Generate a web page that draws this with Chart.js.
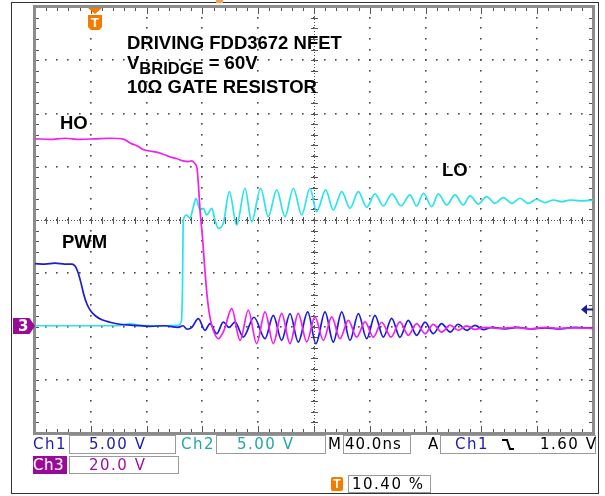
<!DOCTYPE html>
<html>
<head>
<meta charset="utf-8">
<script src="https://cdn.jsdelivr.net/npm/chart.js@4.4.0/dist/chart.umd.min.js"></script>
<style>
html, body { margin: 0; padding: 0; background: #fff; }
#wrap { position: relative; width: 605px; height: 496px; overflow: hidden; }
#scope { position: absolute; left: 0; top: 0; }
.lbl { position: absolute; font-family: "Liberation Sans", Arial, sans-serif; font-weight: bold; font-size: 18.5px; line-height: 1; color: #000; white-space: nowrap; }
.st { position: absolute; font-family: "DejaVu Sans", Verdana, sans-serif; font-size: 15px; letter-spacing: 1.5px; line-height: 19px; height: 19px; white-space: nowrap; }
.box { position: absolute; border: 1px solid #9a9a9a; box-sizing: border-box; }
#frame { position: absolute; left: 11px; top: 2px; width: 588px; height: 492px; border: 1.5px solid #333; box-sizing: border-box; pointer-events: none; }
</style>
</head>
<body>
<div id="wrap">
  <canvas id="scope" width="605" height="496"></canvas>
  <div id="frame"></div>

  <!-- annotations -->
  <div class="lbl" style="left:127px;top:33.6px">DRIVING FDD3672 NFET</div>
  <div class="lbl" style="left:127px;top:54.3px">V<span style="position:relative;top:5px;font-size:16.5px">BRIDGE</span> = 60V</div>
  <div class="lbl" style="left:127px;top:77.6px">10Ω GATE RESISTOR</div>
  <div class="lbl" style="left:60px;top:113.8px">HO</div>
  <div class="lbl" style="left:62px;top:233.3px">PWM</div>
  <div class="lbl" style="left:442px;top:161.3px">LO</div>

  <!-- markers -->
  <div style="position:absolute;left:216px;top:0;width:7px;height:3px;background:#f7a050"></div>
  <div style="position:absolute;left:88px;top:8px;width:14px;height:6px;background:#f47b00;clip-path:polygon(0 0,100% 0,50% 100%)"></div>
  <div style="position:absolute;left:88px;top:15px;width:14px;height:15px;background:#f47b00;clip-path:polygon(0 0,100% 0,100% 80%,80% 100%,20% 100%,0 80%);color:#fff;font:bold 13px 'Liberation Sans',Arial,sans-serif;text-align:center;line-height:15px">T</div>
  <div style="position:absolute;left:13px;top:318px;width:22px;height:16px;background:#990a99;clip-path:polygon(0 0,75% 0,100% 50%,75% 100%,0 100%);color:#fff;font:bold 15px 'DejaVu Sans',sans-serif;line-height:16px;padding-left:5px;box-sizing:border-box">3</div>

  <!-- status bar -->
  <div class="st" style="left:33px;top:435px;color:#1c1ca8">Ch1</div>
  <div class="box" style="left:69px;top:435px;width:107px;height:19px"></div>
  <div class="st" style="left:89px;top:435px;color:#2020b0">5.00 V</div>
  <div class="st" style="left:181px;top:435px;color:#20a8a8">Ch2</div>
  <div class="box" style="left:216px;top:435px;width:110px;height:19px"></div>
  <div class="st" style="left:237px;top:435px;color:#20a8a8">5.00 V</div>
  <div class="st" style="left:328px;top:435px;color:#000;letter-spacing:0">M</div>
  <div class="box" style="left:343px;top:435px;width:68px;height:19px"></div>
  <div class="st" style="left:345px;top:435px;color:#000;letter-spacing:1px">40.0ns</div>
  <div class="st" style="left:428px;top:435px;color:#000">A</div>
  <div class="box" style="left:440px;top:435px;width:156px;height:19px"></div>
  <div class="st" style="left:455px;top:435px;color:#1c1ca8">Ch1</div>
  <svg style="position:absolute;left:501px;top:438px" width="14" height="13"><polyline points="1,2 6,2 9,11 13,11" fill="none" stroke="#000" stroke-width="2"/></svg>
  <div class="st" style="left:540px;top:435px;color:#000">1.60 V</div>

  <div class="st" style="left:33px;top:456px;width:34px;height:18px;line-height:18px;background:#990a99;color:#fff;letter-spacing:0.5px">Ch3</div>
  <div class="box" style="left:69px;top:456px;width:110px;height:18px"></div>
  <div class="st" style="left:89px;top:456px;line-height:18px;color:#a010a0">20.0 V</div>

  <div style="position:absolute;left:331px;top:477px;width:12px;height:14px;background:#f47b00;border-radius:2px;color:#fff;font:bold 12px 'Liberation Sans',Arial,sans-serif;text-align:center;line-height:14px">T</div>
  <div class="box" style="left:348px;top:475px;width:83px;height:18px"></div>
  <div class="st" style="left:352px;top:475px;line-height:18px;color:#000">10.40 %</div>
</div>

<script>
// time base 40 ns/div, 10 divisions
const timeMin = 0;
const timeMax = 400;
const voltsPerDiv = { ch1: 5, ch2: 5, ch3: 20 };
const groundDiv = -2;          // all three grounds sit 2 div below centre
const triggerLevel = 1.60;     // Ch1 falling edge

// Ch1 - PWM input (V)
const pwmTime = [0, 7.2, 14.3, 21.5, 26.5, 28.7, 30.8, 33.0, 35.1, 37.3, 40.1, 43.7, 48.0, 53.8, 60.9, 71.7, 82.4, 93.2, 102.5, 106.1,
  109.0, 112.5, 117.1, 121.9, 125.4, 130.3, 135.0, 139.1, 143.4, 149.3, 157.0, 164.9, 170.8, 176.8, 182.8, 188.7, 195.5, 201.4, 207.9, 213.8,
  219.9, 225.8, 231.8, 237.8, 243.7, 249.7, 255.7, 261.6, 267.6, 273.6, 279.6, 285.5, 291.5, 297.5, 303.4, 309.4, 315.4, 321.4, 327.6, 336.9,
  346.2, 354.8, 365.6, 376.3, 387.1, 400];
const pwmVolts = [5.90, 5.86, 5.95, 5.86, 5.86, 5.67, 5.10, 4.07, 2.94, 2.09, 1.43, 0.96, 0.63, 0.40, 0.21, 0.11, 0.02, 0.07, -0.08, 0.07,
  -0.26, -0.08, 0.74, -0.36, 0.27, -0.67, 0.42, -0.08, 0.42, -0.99, 0.87, -1.14, 1.05, -1.30, 1.21, -1.46, 1.37, -1.61, 1.37, -1.46,
  1.37, -1.30, 1.21, -1.14, 1.05, -0.99, 0.77, -1.02, 0.58, -0.83, 0.42, -0.67, 0.27, -0.52, 0.21, -0.36, 0.11, -0.29, -0.08, -0.22,
  -0.08, -0.22, -0.12, -0.22, -0.08, -0.17];

// Ch2 - LO gate (V)
const loTime = [0, 17.9, 39.4, 57.3, 68.1, 75.3, 89.6, 102.5, 105.0, 105.7, 106.3, 108.7, 111.1, 113.5, 115.4, 118.3, 120.6, 123.1, 126.7, 129.0,
  131.4, 135.0, 139.3, 144.6, 150.5, 155.3, 161.8, 167.2, 173.3, 179.2, 185.2, 191.2, 197.1, 201.9, 208.4, 213.8, 219.9, 225.8, 231.8, 237.8,
  243.7, 249.7, 255.9, 262.4, 268.8, 273.6, 278.4, 284.4, 289.1, 295.1, 301.1, 307.0, 311.8, 317.8, 323.8, 329.7, 335.7, 341.7, 347.7, 353.6,
  359.6, 365.6, 371.6, 377.6, 383.5, 390.7, 400];
const loVolts = [0.07, 0.07, 0.07, 0.07, 0.25, 0.11, 0.07, 0.11, 0.58, 3.41, 10.0, 10.47, 10.16, 11.25, 12.04, 10.94, 11.10, 10.47, 11.10, 10.0,
  9.22, 9.69, 12.66, 9.53, 12.98, 9.84, 12.98, 10.31, 12.82, 10.31, 12.98, 10.47, 12.98, 10.78, 12.82, 10.94, 12.66, 11.10, 12.66, 11.20,
  12.45, 11.32, 12.45, 11.32, 12.35, 11.32, 12.51, 11.25, 12.45, 11.41, 12.35, 11.41, 12.26, 11.50, 12.19, 11.57, 12.10, 11.57, 12.04, 11.57,
  11.95, 11.63, 11.88, 11.72, 11.88, 11.79, 11.88];

// Ch3 - HO gate (V)
const hoTime = [0, 10.8, 21.5, 32.3, 43.0, 53.8, 63.8, 66.7, 69.5, 73.1, 76.7, 81.0, 86.0, 91.0, 96.8, 101.8, 106.1, 109.7, 112.5, 114.7,
  116.1, 117.2, 118.3, 120.1, 121.9, 123.7, 125.4, 127.8, 131.4, 135.5, 141.0, 147.0, 152.9, 158.9, 164.9, 170.8, 176.8, 182.8, 188.7, 194.8,
  200.7, 206.7, 212.7, 218.6, 224.6, 230.6, 236.6, 242.5, 248.5, 255.2, 261.6, 267.6, 273.6, 279.6, 285.5, 291.5, 297.5, 303.4, 309.4, 315.4,
  322.6, 333.3, 344.1, 354.8, 365.6, 376.3, 387.1, 400];
const hoVolts = [70.5, 70.3, 70.7, 70.3, 70.5, 70.7, 70.3, 69.4, 68.6, 67.9, 66.7, 66.0, 65.6, 64.9, 63.7, 63.0, 62.2, 61.9, 62.2, 61.1,
  59.6, 52.8, 43.7, 33.2, 20.4, 9.9, 3.5, -1.4, -4.6, -1.4, 6.7, -5.2, 6.1, -6.4, 5.5, -6.4, 4.9, -6.4, 4.9, -5.8,
  3.6, -5.2, 3.6, -4.6, 2.3, -4.0, 1.7, -4.0, 1.6, -4.0, 1.7, -3.3, 1.1, -2.7, 0.8, -2.1, 0.5, -1.4, 0.2, -1.1,
  -0.3, -0.7, -0.3, -0.9, -0.3, -0.7, -0.5, -0.7];

const toPoints = (ts, vs) => ts.map((t, i) => ({ x: t, y: vs[i] }));
const axisFor = (vpd) => ({ display: false, min: (-4 - groundDiv) * vpd, max: (4 - groundDiv) * vpd });

// scope graticule drawn from the scales
const graticule = {
  id: 'graticule',
  beforeDatasetsDraw(chart) {
    const { ctx, chartArea: a } = chart;
    const xs = chart.scales.x, ys = chart.scales.y1;
    const vpd = voltsPerDiv.ch1;
    const minorX = [], majorX = [], minorY = [], majorY = [];
    for (let i = 0; i <= 50; i++) minorX.push(Math.round(xs.getPixelForValue(i * 8)));
    for (let i = 0; i <= 10; i++) majorX.push(Math.round(xs.getPixelForValue(i * 40)));
    for (let i = 0; i <= 40; i++) minorY.push(Math.round(ys.getPixelForValue(ys.min + i * vpd / 5)));
    for (let i = 0; i <= 8; i++) majorY.push(Math.round(ys.getPixelForValue(ys.min + i * vpd)));
    const cx = Math.round(xs.getPixelForValue((timeMin + timeMax) / 2));
    const cy = Math.round(ys.getPixelForValue(ys.min + 4 * vpd));
    ctx.save();
    ctx.fillStyle = '#4a4a4a';
    majorX.forEach(px => minorY.forEach(py => ctx.fillRect(px - 1, py - 1, 1.6, 1.6)));
    majorY.forEach(py => minorX.forEach(px => ctx.fillRect(px - 1, py - 1, 1.6, 1.6)));
    ctx.strokeStyle = '#555';
    ctx.lineWidth = 1;
    ctx.setLineDash([1, 2]);
    ctx.beginPath();
    ctx.moveTo(a.left, cy + 0.5); ctx.lineTo(a.right, cy + 0.5);
    ctx.moveTo(cx + 0.5, a.top); ctx.lineTo(cx + 0.5, a.bottom);
    ctx.stroke();
    ctx.setLineDash([]);
    ctx.beginPath();
    minorX.forEach(px => {
      ctx.moveTo(px + 0.5, cy - 3); ctx.lineTo(px + 0.5, cy + 4);
      ctx.moveTo(px + 0.5, a.top); ctx.lineTo(px + 0.5, a.top + 4);
      ctx.moveTo(px + 0.5, a.bottom); ctx.lineTo(px + 0.5, a.bottom - 4);
    });
    minorY.forEach(py => {
      ctx.moveTo(cx - 3, py + 0.5); ctx.lineTo(cx + 4, py + 0.5);
      ctx.moveTo(a.left, py + 0.5); ctx.lineTo(a.left + 4, py + 0.5);
      ctx.moveTo(a.right, py + 0.5); ctx.lineTo(a.right - 4, py + 0.5);
    });
    majorX.forEach(px => {
      ctx.moveTo(px + 0.5, a.top); ctx.lineTo(px + 0.5, a.top + 7);
      ctx.moveTo(px + 0.5, a.bottom); ctx.lineTo(px + 0.5, a.bottom - 7);
    });
    ctx.stroke();
    ctx.strokeStyle = '#8c8c8c';
    ctx.lineWidth = 3;
    ctx.strokeRect(a.left - 0.5, a.top - 0.5, a.right - a.left + 1, a.bottom - a.top + 1);
    ctx.restore();
  },
  afterDatasetsDraw(chart) {
    const { ctx, chartArea: a } = chart;
    const py = chart.scales.y1.getPixelForValue(triggerLevel);
    ctx.save();
    ctx.fillStyle = '#1a1aa0';
    ctx.beginPath();
    ctx.moveTo(a.right - 12, py);
    ctx.lineTo(a.right - 6, py - 5);
    ctx.lineTo(a.right - 6, py + 5);
    ctx.closePath();
    ctx.fill();
    ctx.fillRect(a.right - 7, py - 1, 7, 2);
    ctx.restore();
  }
};

new Chart(document.getElementById('scope'), {
  type: 'line',
  data: {
    datasets: [
      { label: 'HO', data: toPoints(hoTime, hoVolts), yAxisID: 'y3', borderColor: '#f020f0', order: 0 },
      { label: 'PWM', data: toPoints(pwmTime, pwmVolts), yAxisID: 'y1', borderColor: '#1c1cd8', order: 1 },
      { label: 'LO', data: toPoints(loTime, loVolts), yAxisID: 'y2', borderColor: '#28e4ec', order: 2 }
    ]
  },
  options: {
    responsive: false,
    animation: false,
    devicePixelRatio: 1,
    layout: { padding: { left: 35, right: 12, top: 7, bottom: 63 } },
    elements: {
      line: { borderWidth: 1.7, cubicInterpolationMode: 'monotone' },
      point: { radius: 0 }
    },
    scales: {
      x: { type: 'linear', display: false, min: timeMin, max: timeMax },
      y1: axisFor(voltsPerDiv.ch1),
      y2: axisFor(voltsPerDiv.ch2),
      y3: axisFor(voltsPerDiv.ch3)
    },
    plugins: { legend: { display: false }, tooltip: { enabled: false } }
  },
  plugins: [graticule]
});
</script>
</body>
</html>
